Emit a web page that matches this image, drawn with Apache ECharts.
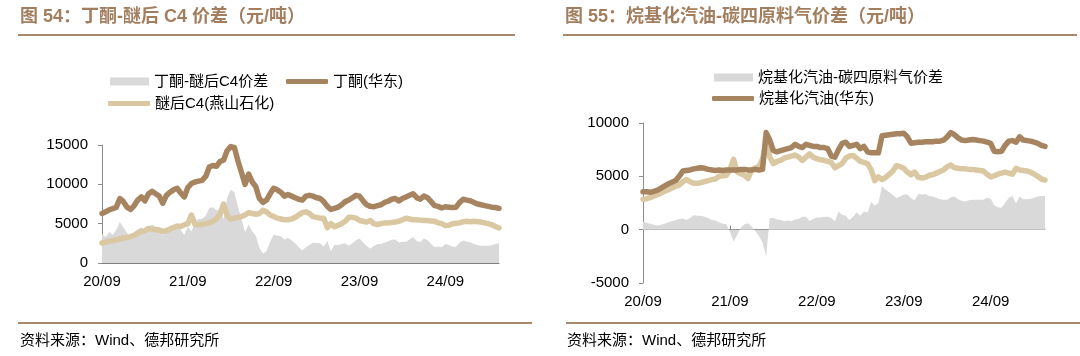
<!DOCTYPE html>
<html>
<head>
<meta charset="utf-8">
<script src="https://cdn.jsdelivr.net/npm/echarts@6/dist/echarts.min.js"></script>
<style>
html,body{margin:0;padding:0;background:#fff;}
#c{width:1080px;height:356px;}
</style>
</head>
<body>
<div id="c"></div>
<script>
// ---------- categories (semi-monthly, 2020-09 .. 2025-04) ----------
const categories = [];
for (let i = 0; i < 112; i++) {
  const mIdx = 8 + Math.floor(i / 2);
  const y = 2020 + Math.floor(mIdx / 12);
  const m = (mIdx % 12) + 1;
  categories.push(y + '-' + String(m).padStart(2, '0') + '-' + (i % 2 === 0 ? '01' : '16'));
}

// ---------- Left chart: 丁酮-醚后C4价差 ----------
const mekSpread = [3700,3300,3900,3600,4200,5200,4500,3800,3400,3900,
 4300,4500,3800,4500,4900,4600,4300,3500,4500,4700,
 4800,4900,4200,3600,4600,4000,5300,5600,5600,6000,
 7000,7100,6700,6700,5600,8300,9300,9000,7200,5600,
 3900,4900,4000,3500,1900,1200,1500,2700,3600,3500,
 3400,3000,3200,2900,2500,2000,1600,2000,2300,2600,
 2500,2500,2100,2800,1500,2300,2300,2400,2500,2200,
 2500,2900,3100,2600,2200,1800,2150,2400,2400,2600,
 2750,2950,3000,2600,2700,2700,3000,3300,2800,2650,
 3100,2900,2450,2000,2100,2000,2400,2300,2050,2050,
 2600,2850,2700,2650,2400,2250,2200,2200,2200,2250,
 2400,2500];
const mekEast = [6300,6500,6750,6900,7100,8200,7800,7100,6800,7300,
 8000,8400,7900,8800,9100,8800,8500,7600,8600,9000,
 9300,9500,8900,8400,9600,10100,10300,10400,10500,11000,
 12200,12400,12300,12900,13100,14300,14800,14700,13000,11500,
 10000,11300,10300,9700,8200,7700,8000,8800,9500,9300,
 9000,8500,8700,8500,8300,8100,8000,8500,8600,8500,
 8300,8200,7800,7200,6800,6950,7100,7400,7800,8000,
 8300,8600,8500,7900,7400,7200,7150,7300,7400,7700,
 7850,8100,8200,7900,8200,8400,8600,8800,8300,8100,
 8500,8300,7800,7300,7200,7000,7150,7100,7050,7100,
 7700,8100,8000,7900,7700,7500,7400,7300,7200,7100,
 7050,6950];
const c4Yanshan = [2550,2650,2750,2850,2950,3050,3150,3250,3350,3500,
 3800,4000,4100,4400,4300,4250,4200,4000,4100,4300,
 4500,4700,4650,4850,5000,6100,4900,4850,4900,5000,
 5100,5300,5600,6200,7500,6000,5600,5700,5800,5900,
 6100,6400,6300,6200,6300,6700,6500,6100,5900,5700,
 5600,5500,5500,5600,5800,6100,6400,6500,6300,5900,
 5800,5700,5700,4500,5000,4600,4800,5000,5300,5800,
 5800,5700,5400,5300,5200,5400,5000,4900,5000,5100,
 5100,5150,5200,5300,5500,5700,5600,5500,5500,5450,
 5400,5400,5350,5300,5100,5000,4750,4800,5000,5050,
 5100,5250,5300,5250,5300,5250,5200,5100,5000,4850,
 4650,4450];

// ---------- Right chart: 烷基化汽油-碳四原料气价差 ----------
const alkySpread = [750,650,550,450,400,450,550,700,800,900,
 1000,1050,900,1100,1350,1300,1300,1200,1100,900,
 850,700,550,500,-200,-1100,-500,200,500,600,
 300,-100,-600,-1200,-2500,1100,1100,950,900,800,
 850,800,950,1000,1200,1200,800,1000,1150,1150,
 1200,1200,1100,800,1700,1400,1300,900,1200,1600,
 1300,1700,1600,2600,2250,2500,4100,3750,3500,3250,
 2950,3100,3300,3300,2950,2750,3350,3300,3350,3150,
 3100,3000,2850,2800,2800,3050,3100,2850,2700,2650,
 2750,2800,2800,2800,2800,3000,2900,2300,2100,2050,
 2500,3000,3150,2450,3100,2850,2850,2900,3000,3100,
 3150,3150];
const alkyEast = [3550,3550,3500,3600,3700,3900,4100,4300,4450,4600,
 5000,5500,5550,5600,5700,5750,5800,5750,5650,5600,
 5550,5600,5550,5600,5600,5600,5600,5650,5650,5600,
 5600,5650,5600,5650,9100,8400,7400,7300,7400,7500,
 7600,7700,8000,7800,7700,8000,7900,7800,7800,7700,
 7700,7600,6900,6800,7500,8100,8200,7800,7900,8000,
 7600,7800,7300,7200,7200,7200,8800,8850,8900,8950,
 9000,9000,9050,8700,8100,8150,8200,8200,8250,8250,
 8250,8300,8300,8400,8700,9100,8900,8600,8400,8350,
 8400,8450,8400,8350,8300,8200,8100,7350,7300,7350,
 7900,8300,8350,8200,8700,8400,8350,8300,8200,8100,
 7900,7800];
const c4Feed = [2850,2900,3000,3150,3300,3450,3600,3750,3900,4050,
 4200,4500,4700,4500,4350,4350,4400,4500,4600,4700,
 4750,5000,5050,5100,5600,6600,5400,5250,5100,4800,
 5600,5800,5900,6600,8200,6800,6200,6400,6500,6700,
 6800,6900,7000,6800,6500,6800,7100,6800,6650,6550,
 6500,6400,6300,5800,6000,6200,6700,6900,6950,6700,
 6400,6300,6200,5600,4600,4950,4700,4900,5200,5500,
 6000,5900,5750,5400,5150,5400,4900,4850,4900,5100,
 5150,5300,5450,5600,5900,6050,5800,5750,5700,5700,
 5650,5650,5600,5550,5500,5200,4950,5050,5200,5300,
 5400,5300,5200,5750,5600,5550,5500,5400,5200,5000,
 4750,4650];

// ---------- styling ----------
const FONT = "'Liberation Sans', 'Noto Sans CJK SC', sans-serif";
const DARK = '#A6845F', TAN = '#D9C8A1', GRAY = '#D9D9D9';
const TITLE_C = '#A27E5E', RULE_C = '#A8896A';

function xAxis(gi) {
  return {
    type: 'category', gridIndex: gi, data: categories, boundaryGap: false,
    axisLine: { show: true, onZero: true, lineStyle: { color: '#7f7f7f', width: 1 } },
    axisTick: { show: true, inside: true, length: 4, lineStyle: { color: '#7f7f7f' },
      interval: (idx, v) => v.endsWith('-09-01') },
    axisLabel: { interval: (idx, v) => v.endsWith('-09-01'), margin: 11,
      color: '#000', fontSize: 15, fontFamily: FONT,
      formatter: v => v.slice(2, 4) + '/' + v.slice(5, 7) },
    splitLine: { show: false }
  };
}
function yAxis(gi, min, max) {
  return {
    type: 'value', gridIndex: gi, min: min, max: max, interval: 5000,
    axisLine: { show: true, lineStyle: { color: '#8c8c8c', width: 1 } },
    axisTick: { show: true, length: 4, lineStyle: { color: '#8c8c8c' } },
    axisLabel: { margin: 14, color: '#000', fontSize: 15, fontFamily: FONT,
      formatter: v => String(v) },
    splitLine: { show: false }
  };
}
function area(name, data, gi) {
  return { name, type: 'line', xAxisIndex: gi, yAxisIndex: gi, data, symbol: 'none',
    color: GRAY, lineStyle: { width: 0 }, areaStyle: { color: GRAY, opacity: 1 }, z: 1 };
}
function line(name, data, gi, color) {
  return { name, type: 'line', xAxisIndex: gi, yAxisIndex: gi, data, symbol: 'none',
    color, lineStyle: { width: 5.5, color, cap: 'round', join: 'round' }, z: 3 };
}
const legendText = { color: '#000', fontSize: 15, fontFamily: FONT };
function legendArea(left, top, name) {
  return { left, top, itemWidth: 39, itemHeight: 8, itemGap: 10, textStyle: legendText,
    data: [{ name, icon: 'rect' }], selectedMode: false };
}
function legendLine(left, top, name) {
  return { left, top, itemWidth: 42, itemHeight: 5, itemGap: 10, textStyle: legendText,
    data: [{ name, icon: 'roundRect' }], selectedMode: false };
}
function txt(x, y, t, font, fill) {
  return { type: 'text', x, y, style: { text: t, font, fill, verticalAlign: 'middle', align: 'left' } };
}
function rule(x1, x2, y) {
  return { type: 'line', shape: { x1, y1: y, x2, y2: y }, style: { stroke: RULE_C, lineWidth: 2 } };
}

const option = {
  animation: false,
  backgroundColor: '#fff',
  graphic: [
    txt(20, 17, '图 54：丁酮-醚后 C4 价差（元/吨）', "bold 18px 'Liberation Sans', 'Noto Sans CJK SC'", TITLE_C),
    txt(565, 17, '图 55：烷基化汽油-碳四原料气价差（元/吨）', "bold 18px 'Liberation Sans', 'Noto Sans CJK SC'", TITLE_C),
    rule(18, 515, 35), rule(563, 1077, 35),
    rule(18, 532, 323), rule(566, 1080, 323),
    txt(20, 341, '资料来源：Wind、德邦研究所', "15px 'Liberation Sans', 'Noto Sans CJK SC'", '#000'),
    txt(567, 341, '资料来源：Wind、德邦研究所', "15px 'Liberation Sans', 'Noto Sans CJK SC'", '#000')
  ],
  legend: [
    legendArea(105, 69, '丁酮-醚后C4价差'),
    legendLine(281, 69, '丁酮(华东)'),
    legendLine(103, 91, '醚后C4(燕山石化)'),
    legendArea(709, 65, '烷基化汽油-碳四原料气价差'),
    legendLine(707, 86, '烷基化汽油(华东)')
  ],
  grid: [
    { left: 102, top: 145, width: 397, height: 118 },
    { left: 643, top: 123, width: 402, height: 160 }
  ],
  xAxis: [xAxis(0), xAxis(1)],
  yAxis: [yAxis(0, 0, 15000), yAxis(1, -5000, 10000)],
  series: [
    area('丁酮-醚后C4价差', mekSpread, 0),
    line('醚后C4(燕山石化)', c4Yanshan, 0, TAN),
    line('丁酮(华东)', mekEast, 0, DARK),
    area('烷基化汽油-碳四原料气价差', alkySpread, 1),
    line('碳四原料气', c4Feed, 1, TAN),
    line('烷基化汽油(华东)', alkyEast, 1, DARK)
  ]
};
const chart = echarts.init(document.getElementById('c'), null, { renderer: 'canvas' });
chart.setOption(option);
</script>
</body>
</html>
